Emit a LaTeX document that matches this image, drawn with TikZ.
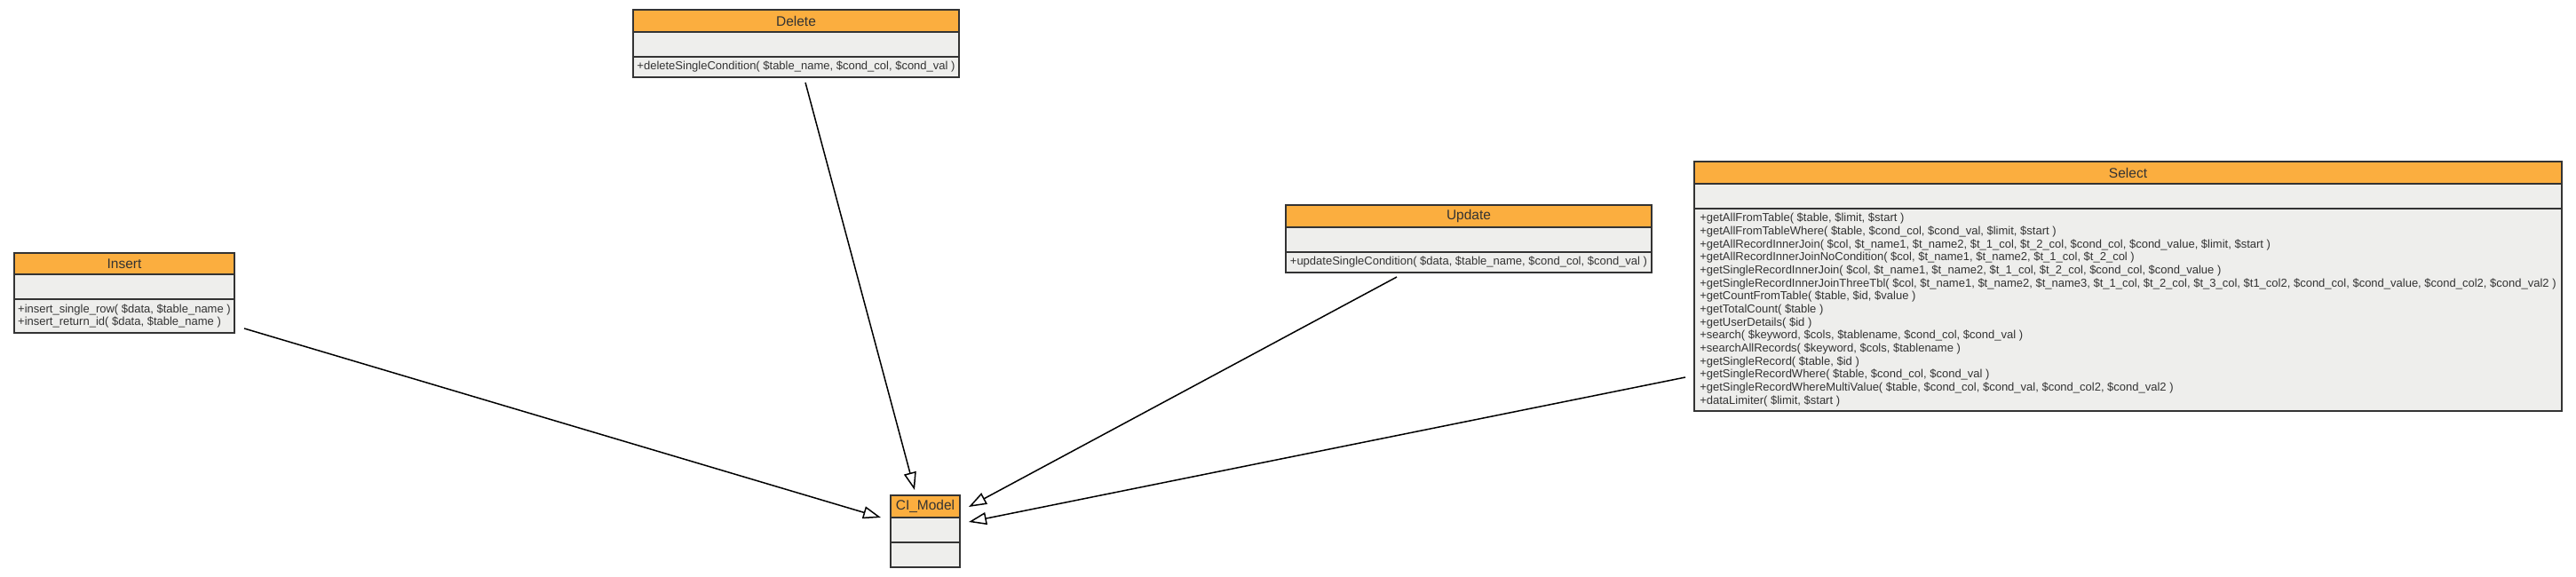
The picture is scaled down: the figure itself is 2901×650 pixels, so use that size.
\documentclass[tikz,border=0pt]{standalone}
\usepackage{fontspec}
\setmainfont{Liberation Sans}
\usetikzlibrary{arrows.meta}
\definecolor{hdrcol}{HTML}{FBAE3F}
\definecolor{bodycol}{HTML}{EEEEEC}
\definecolor{ink}{HTML}{333333}
\tikzset{
  umlbox/.style={draw=ink, line width=1.8pt, anchor=north west, inner sep=0pt, outer sep=0pt},
  umlhead/.style={umlbox, fill=hdrcol, text=ink, font=\fontsize{15.5}{16}\selectfont},
  umlattr/.style={umlbox, fill=bodycol},
  umlmeth/.style={umlbox, fill=bodycol, align=left, text=ink, font=\fontsize{13}{14.65}\selectfont},
  gen/.style={draw=black, line width=1.5pt, -{Triangle[open, length=20pt, width=14pt, line width=1.5pt]}},
}
\begin{document}
\begin{tikzpicture}[x=1pt,y=-1pt]
\useasboundingbox (0,0) rectangle (2901,650);

% Insert
\node[umlhead, minimum width=248, minimum height=24] (insert) at (16,285) {Insert};
\node[umlattr, minimum width=248, minimum height=28] (insert-a) at (16,309) {};
\node[umlmeth, minimum width=248, minimum height=38] (insert-m) at (16,337)
  {+insert\_single\_row( \$data, \$table\_name )\\+insert\_return\_id( \$data, \$table\_name )};

% Delete
\node[umlhead, minimum width=367, minimum height=25] (delete) at (713,11) {Delete};
\node[umlattr, minimum width=367, minimum height=28] (delete-a) at (713,36) {};
\node[umlmeth, minimum width=367, minimum height=23] (delete-m) at (713,64)
  {+deleteSingleCondition( \$table\_name, \$cond\_col, \$cond\_val )};

% Update
\node[umlhead, minimum width=412, minimum height=25] (update) at (1448,231) {Update};
\node[umlattr, minimum width=412, minimum height=28] (update-a) at (1448,256) {};
\node[umlmeth, minimum width=412, minimum height=23] (update-m) at (1448,284)
  {+updateSingleCondition( \$data, \$table\_name, \$cond\_col, \$cond\_val )};

% Select
\node[umlhead, minimum width=977, minimum height=25] (select) at (1908,182) {Select};
\node[umlattr, minimum width=977, minimum height=28] (select-a) at (1908,207) {};
\node[umlmeth, minimum width=977, minimum height=228] (select-m) at (1908,235)
  {+getAllFromTable( \$table, \$limit, \$start )\\
   +getAllFromTableWhere( \$table, \$cond\_col, \$cond\_val, \$limit, \$start )\\
   +getAllRecordInnerJoin( \$col, \$t\_name1, \$t\_name2, \$t\_1\_col, \$t\_2\_col, \$cond\_col, \$cond\_value, \$limit, \$start )\\
   +getAllRecordInnerJoinNoCondition( \$col, \$t\_name1, \$t\_name2, \$t\_1\_col, \$t\_2\_col )\\
   +getSingleRecordInnerJoin( \$col, \$t\_name1, \$t\_name2, \$t\_1\_col, \$t\_2\_col, \$cond\_col, \$cond\_value )\\
   +getSingleRecordInnerJoinThreeTbl( \$col, \$t\_name1, \$t\_name2, \$t\_name3, \$t\_1\_col, \$t\_2\_col, \$t\_3\_col, \$t1\_col2, \$cond\_col, \$cond\_value, \$cond\_col2, \$cond\_val2 )\\
   +getCountFromTable( \$table, \$id, \$value )\\
   +getTotalCount( \$table )\\
   +getUserDetails( \$id )\\
   +search( \$keyword, \$cols, \$tablename, \$cond\_col, \$cond\_val )\\
   +searchAllRecords( \$keyword, \$cols, \$tablename )\\
   +getSingleRecord( \$table, \$id )\\
   +getSingleRecordWhere( \$table, \$cond\_col, \$cond\_val )\\
   +getSingleRecordWhereMultiValue( \$table, \$cond\_col, \$cond\_val, \$cond\_col2, \$cond\_val2 )\\
   +dataLimiter( \$limit, \$start )};

% CI_Model
\node[umlhead, minimum width=78, minimum height=25] (cimodel) at (1003,558) {CI\_Model};
\node[umlattr, minimum width=78, minimum height=28] (cimodel-a) at (1003,583) {};
\node[umlattr, minimum width=78, minimum height=28] (cimodel-m) at (1003,611) {};

% connector end points
\coordinate (insert-out) at (275,370);
\coordinate (delete-out) at (907,93);
\coordinate (update-out) at (1573,312);
\coordinate (select-out) at (1898,425);
\coordinate (ci-in-insert) at (992,583);
\coordinate (ci-in-delete) at (1030,552);
\coordinate (ci-in-update) at (1091,571);
\coordinate (ci-in-select) at (1091,588);

\draw[gen] (insert-out) -- (ci-in-insert);
\draw[gen] (delete-out) -- (ci-in-delete);
\draw[gen] (update-out) -- (ci-in-update);
\draw[gen] (select-out) -- (ci-in-select);
\end{tikzpicture}
\end{document}
